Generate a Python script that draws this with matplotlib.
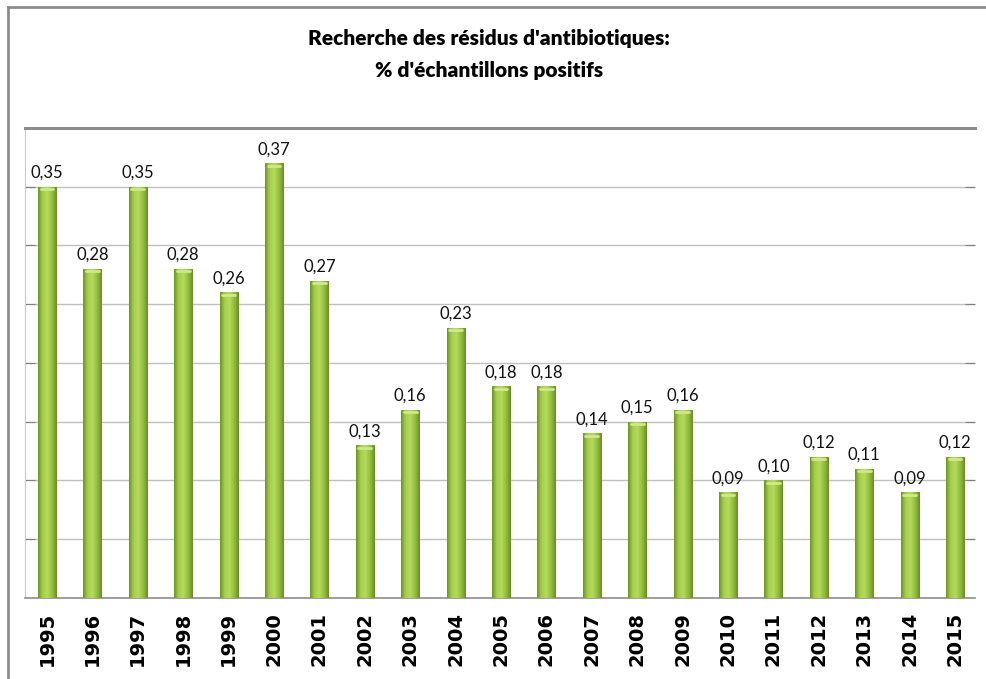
import numpy as np
import matplotlib.pyplot as plt
from matplotlib.lines import Line2D
from matplotlib.colors import LinearSegmentedColormap

years = ['1995', '1996', '1997', '1998', '1999', '2000', '2001', '2002', '2003', '2004',
         '2005', '2006', '2007', '2008', '2009', '2010', '2011', '2012', '2013', '2014', '2015']
values = [0.35, 0.28, 0.35, 0.28, 0.26, 0.37, 0.27, 0.13, 0.16, 0.23,
          0.18, 0.18, 0.14, 0.15, 0.16, 0.09, 0.10, 0.12, 0.11, 0.09, 0.12]

fig = plt.figure(figsize=(9.87, 6.79), dpi=100)
ax = fig.add_axes([0.0253, 0.1193, 0.9625, 0.6922])

x = np.arange(len(years))
bars = ax.bar(x, values, width=0.4, color='#8db43a', edgecolor='#6a8a2a', linewidth=0.6, zorder=3)

# cylinder-like shading for each bar
cmap = LinearSegmentedColormap.from_list('g', ['#6f952a', '#a6cf4c', '#b5da5c', '#93bf3d', '#6a8e26'])
grad = np.linspace(0, 1, 64).reshape(1, -1)
for b in bars:
    x0, w, h = b.get_x(), b.get_width(), b.get_height()
    im = ax.imshow(grad, extent=[x0, x0 + w, 0, h], aspect='auto', cmap=cmap, zorder=4)
    im.set_clip_path(b)
    # light cap on top
    ax.plot([x0 + w * 0.15, x0 + w * 0.85], [h - 0.002, h - 0.002], color='#cfe98a', lw=2.0,
            solid_capstyle='round', zorder=5)

for xi, v in zip(x, values):
    ax.text(xi, v + 0.005, ('%.2f' % v).replace('.', ','), ha='center', va='bottom',
            fontsize=12, family='Lato', color='#111111', zorder=6)

ax.set_xlim(-0.485, 20.44)
ax.set_ylim(0, 0.40)
ax.set_yticks(np.arange(0.05, 0.40, 0.05))
ax.set_yticklabels([])
ax.tick_params(axis='y', direction='in', length=7, color='#808080', left=True, right=True)
ax.yaxis.grid(True, color='#c0c0c0', linewidth=1.0, zorder=0)
ax.set_axisbelow(True)

ax.set_xticks(x)
ax.set_xticklabels(years, rotation=90, fontsize=14, fontweight='bold', family='DejaVu Sans')
ax.tick_params(axis='x', length=0, pad=10)

ax.spines['right'].set_visible(False)
ax.spines['top'].set_color('#8c8c8c')
ax.spines['top'].set_linewidth(2.2)
ax.spines['left'].set_color('#c8c8c8')
ax.spines['bottom'].set_color('#8c8c8c')
ax.spines['bottom'].set_linewidth(1.2)

# outer chart frame (left and top edges)
fig.add_artist(Line2D([8 / 987, 8 / 987], [0, 1 - 7 / 679], transform=fig.transFigure,
                      color='#8c8c8c', lw=2))
fig.add_artist(Line2D([8 / 987, 1], [1 - 7 / 679, 1 - 7 / 679], transform=fig.transFigure,
                      color='#8c8c8c', lw=2))

fig.text(0.495, 1 - 38 / 679, "Recherche des résidus d'antibiotiques:", ha='center', va='center',
         fontsize=15, fontweight='heavy', family='Lato')
fig.text(0.495, 1 - 70 / 679, "% d'échantillons positifs", ha='center', va='center',
         fontsize=15, fontweight='heavy', family='Lato')

fig.savefig('out.png', dpi=100)
